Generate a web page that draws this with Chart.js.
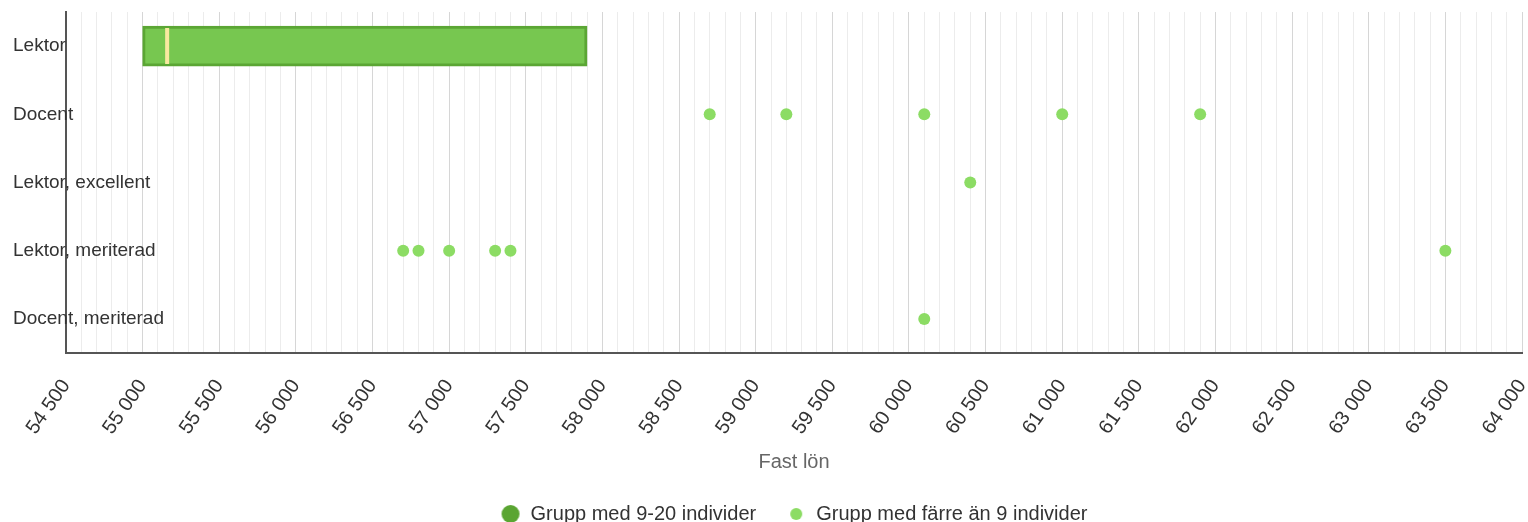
<!DOCTYPE html>
<html>
<head>
<meta charset="utf-8">
<script src="https://cdn.jsdelivr.net/npm/chart.js@4/dist/chart.umd.min.js"></script>
<style>
    html, body { margin: 0; padding: 0; background: #fff; }
    #wrap { width: 1528px; height: 522px; }
</style>
</head>
<body>
<div id="wrap"><canvas id="lonChart"></canvas></div>
<script>
// Kategorier (befattningar)
const befattningar = ['Lektor', 'Docent', 'Lektor, excellent', 'Lektor, meriterad', 'Docent, meriterad'];

// Grupp med 9-20 individer: min, max och median
const grupp9Befattning = ['Lektor'];
const grupp9Min = [55000];
const grupp9Max = [57900];
const grupp9Median = [55160];

// Grupp med färre än 9 individer: enskilda löner
const smaBefattning = [
    'Docent', 'Docent', 'Docent', 'Docent', 'Docent',
    'Lektor, excellent',
    'Lektor, meriterad', 'Lektor, meriterad', 'Lektor, meriterad', 'Lektor, meriterad', 'Lektor, meriterad', 'Lektor, meriterad',
    'Docent, meriterad'
];
const smaLon = [
    58700, 59200, 60100, 61000, 61900,
    60400,
    56700, 56800, 57000, 57300, 57400, 63500,
    60100
];

// Axelinställningar
const xMin = 54500;
const xMax = 64000;

const colors = {
    bar: '#77c750',
    barBorder: '#5ba634',
    median: '#f8e9a0',
    dot: '#8cdc64',
    legendBig: '#5aa532',
    text: '#333333',
    axis: '#555555'
};

const fontFamily = "'Liberation Sans', Arial, sans-serif";

function formatLon(v) {
    return String(v).replace(/\B(?=(\d{3})+(?!\d))/g, ' ');
}

function legendDot(radius, color) {
    const c = document.createElement('canvas');
    c.width = radius * 2 + 2;
    c.height = radius * 2 + 2;
    const g = c.getContext('2d');
    g.fillStyle = color;
    g.beginPath();
    g.arc(c.width / 2, c.height / 2, radius, 0, Math.PI * 2);
    g.fill();
    return c;
}

// Kategorietiketter ritas ovanpå y-axeln, vänsterjusterade
const kategoriEtiketter = {
    id: 'kategoriEtiketter',
    afterDatasetsDraw(chart) {
        const yScale = chart.scales.y;
        const ctx = chart.ctx;
        ctx.save();
        ctx.font = '19px ' + fontFamily;
        ctx.fillStyle = colors.text;
        ctx.textAlign = 'left';
        ctx.textBaseline = 'middle';
        befattningar.forEach((b, i) => {
            ctx.fillText(b, 13, yScale.getPixelForValue(i));
        });
        ctx.restore();
    }
};

const bigDot = legendDot(9, colors.legendBig);
const smallDot = legendDot(6, colors.dot);

new Chart(document.getElementById('lonChart').getContext('2d'), {
    type: 'bar',
    data: {
        labels: befattningar,
        datasets: [
            {
                type: 'scatter',
                label: 'Median',
                data: grupp9Median.map((v, i) => ({ x: v, y: grupp9Befattning[i] })),
                pointStyle: 'line',
                rotation: 90,
                pointRadius: 18,
                borderWidth: 4,
                borderColor: colors.median,
                backgroundColor: colors.median,
                order: 0
            },
            {
                type: 'bar',
                label: 'Grupp med 9-20 individer',
                indexAxis: 'y',
                data: grupp9Min.map((v, i) => ({ x: [v, grupp9Max[i]], y: grupp9Befattning[i] })),
                backgroundColor: colors.bar,
                borderColor: colors.barBorder,
                borderWidth: 3,
                borderSkipped: false,
                barThickness: 40,
                grouped: false,
                order: 2
            },
            {
                type: 'scatter',
                label: 'Grupp med färre än 9 individer',
                data: smaLon.map((v, i) => ({ x: v, y: smaBefattning[i] })),
                pointRadius: 6,
                pointBorderWidth: 0,
                backgroundColor: colors.dot,
                borderColor: colors.dot,
                order: 1
            }
        ]
    },
    options: {
        indexAxis: 'y',
        responsive: true,
        maintainAspectRatio: false,
        animation: false,
        layout: {
            autoPadding: false,
            padding: { left: 66, right: 6, top: 12, bottom: -12 }
        },
        plugins: {
            tooltip: { enabled: false },
            legend: {
                position: 'bottom',
                labels: {
                    usePointStyle: true,
                    color: colors.text,
                    font: { family: fontFamily, size: 20 },
                    padding: 30,
                    generateLabels(chart) {
                        const items = Chart.defaults.plugins.legend.labels.generateLabels(chart);
                        return items
                            .filter(it => it.text !== 'Median')
                            .sort((a, b) => a.datasetIndex - b.datasetIndex)
                            .map(it => {
                                it.pointStyle = it.datasetIndex === 1 ? bigDot : smallDot;
                                return it;
                            });
                    }
                }
            }
        },
        scales: {
            x: {
                type: 'linear',
                min: xMin,
                max: xMax,
                afterFit: function(scale) {
                    scale.paddingRight = 0;
                },
                ticks: {
                    stepSize: 100,
                    autoSkip: false,
                    minRotation: 55,
                    maxRotation: 55,
                    padding: 22,
                    color: colors.text,
                    font: { family: fontFamily, size: 20 },
                    callback: function(value) {
                        return value % 500 === 0 ? formatLon(value) : '';
                    }
                },
                grid: {
                    drawTicks: false,
                    color: function(ctx) {
                        return ctx.tick && ctx.tick.value % 500 === 0 ? '#d6d6d6' : '#ececec';
                    }
                },
                border: { color: colors.axis, width: 2 },
                title: {
                    display: true,
                    text: 'Fast lön',
                    color: '#666666',
                    font: { family: fontFamily, size: 20 },
                    padding: { top: -11, bottom: 0 }
                }
            },
            y: {
                type: 'category',
                offset: true,
                ticks: { display: false },
                grid: { display: false, drawTicks: false },
                border: { color: colors.axis, width: 2 }
            }
        }
    },
    plugins: [kategoriEtiketter]
});
</script>
</body>
</html>
